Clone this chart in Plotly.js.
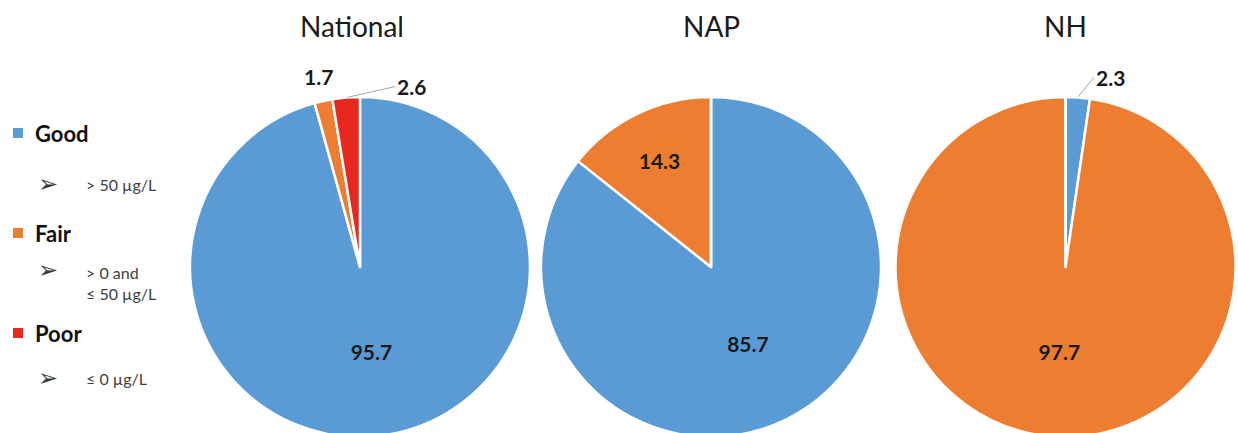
<!DOCTYPE html>
<html><head><meta charset="utf-8">
<script src="https://cdn.plot.ly/plotly-3.0.1.min.js"></script>
<style>html,body{margin:0;padding:0;overflow:hidden;background:#fff}</style>
</head><body><div id="chart"></div>
<script>
const categories = ['Good', 'Fair', 'Poor'];
const criteria = ['> 50 µg/L', '> 0 and<br>≤ 50 µg/L', '≤ 0 µg/L'];
const colors = ['#5B9BD5', '#ED7D31', '#E8281E'];
const panels = ['National', 'NAP', 'NH'];
const nationalValues = [95.7, 1.7, 2.6];
const napValues = [85.7, 14.3, 0];
const nhValues = [2.3, 97.7, 0];

const W = 1238, H = 440;
const domainsX = [[190/W, 530/W], [541/W, 881/W], [895/W, 1236/W]];
const domY = [1 - 437/H, 1 - 97/H];
const allValues = [nationalValues, napValues, nhValues];
// which slices get their label outside (drawn as annotations), with label offsets and leader visibility
const outside = [
  {1: {dx: -5, dy: -24, line: false}, 2: {dx: 49, dy: -11, line: true}},
  {},
  {0: {dx: 16, dy: -20, line: true}}
];
const valFont = {family: 'Lato, "Open Sans", sans-serif', size: 21, color: '#1a1a1a', weight: 'bold'};

const data = allValues.map((vals, i) => ({
  type: 'pie',
  labels: categories,
  values: vals,
  sort: false,
  direction: 'clockwise',
  rotation: 0,
  domain: {x: domainsX[i], y: domY},
  marker: {colors: colors, line: {color: '#ffffff', width: 2.5}},
  texttemplate: vals.map((v, k) => (v > 0 && !outside[i][k]) ? '%{value:.1f}' : ''),
  textposition: 'inside',
  textfont: valFont,
  insidetextorientation: 'horizontal',
  showlegend: false,
  hoverinfo: 'label+value'
}));

const annotations = panels.map((p, i) => ({
  text: p, xref: 'paper', yref: 'paper',
  x: (domainsX[i][0] + domainsX[i][1]) / 2 - (i === 0 ? 8/W : 0), y: 1 - 26/H,
  showarrow: false, xanchor: 'center', yanchor: 'middle',
  font: {family: 'Lato, "Open Sans", sans-serif', size: 28, color: '#1a1a1a'}
}));

// outside value labels placed at each slice's mid-angle on the rim
allValues.forEach((vals, i) => {
  const total = vals.reduce((a, b) => a + b, 0);
  let cum = 0;
  vals.forEach((v, k) => {
    const mid = (cum + v / 2) / total * 2 * Math.PI;
    cum += v;
    const o = outside[i][k];
    if (!o || v <= 0) return;
    const cx = (domainsX[i][0] + domainsX[i][1]) / 2 * W;
    const cy = H * (1 - (domY[0] + domY[1]) / 2);
    const R = (domY[1] - domY[0]) * H / 2;
    const px = cx + R * Math.sin(mid), py = cy - R * Math.cos(mid);
    annotations.push({
      text: '<b>' + v.toFixed(1) + '</b>', xref: 'paper', yref: 'paper',
      x: px / W, y: 1 - py / H, showarrow: true, arrowhead: 0, arrowwidth: 1,
      arrowcolor: o.line ? '#a6a6a6' : 'rgba(0,0,0,0)', ax: o.dx, ay: o.dy,
      standoff: 1, font: valFont, xanchor: o.line ? 'left' : 'center', yanchor: 'middle'
    });
  });
});

const legendY = [133, 233, 333];
const subY = [184, 283, 378];
const shapes = [];
categories.forEach((c, i) => {
  annotations.push({text: '<b>' + c + '</b>', xref: 'paper', yref: 'paper', x: 33/W, y: 1 - legendY[i]/H,
    showarrow: false, xanchor: 'left', yanchor: 'middle',
    font: {family: 'Lato, "Open Sans", sans-serif', size: 22, color: '#111'}});
  annotations.push({text: '➢', xref: 'paper', yref: 'paper', x: 36/W, y: 1 - (i === 1 ? 270 : subY[i])/H,
    showarrow: false, xanchor: 'left', yanchor: 'middle',
    font: {family: 'DejaVu Sans, sans-serif', size: 24, color: '#3a3a3a'}});
  annotations.push({text: criteria[i], xref: 'paper', yref: 'paper', x: 84/W, y: 1 - subY[i]/H,
    showarrow: false, xanchor: 'left', yanchor: 'middle', align: 'left',
    font: {family: 'Lato, "Open Sans", sans-serif', size: 16, color: '#404040'}});
  shapes.push({type: 'rect', xref: 'paper', yref: 'paper', x0: 13/W, x1: 23/W,
    y0: 1 - (legendY[i] + 5)/H, y1: 1 - (legendY[i] - 5)/H, fillcolor: colors[i], line: {width: 0}});
});

Plotly.newPlot('chart', data, {
  width: W, height: H,
  margin: {l: 0, r: 0, t: 0, b: 0},
  paper_bgcolor: '#ffffff',
  annotations: annotations,
  shapes: shapes
}, {displayModeBar: false, staticPlot: true});
</script></body></html>
